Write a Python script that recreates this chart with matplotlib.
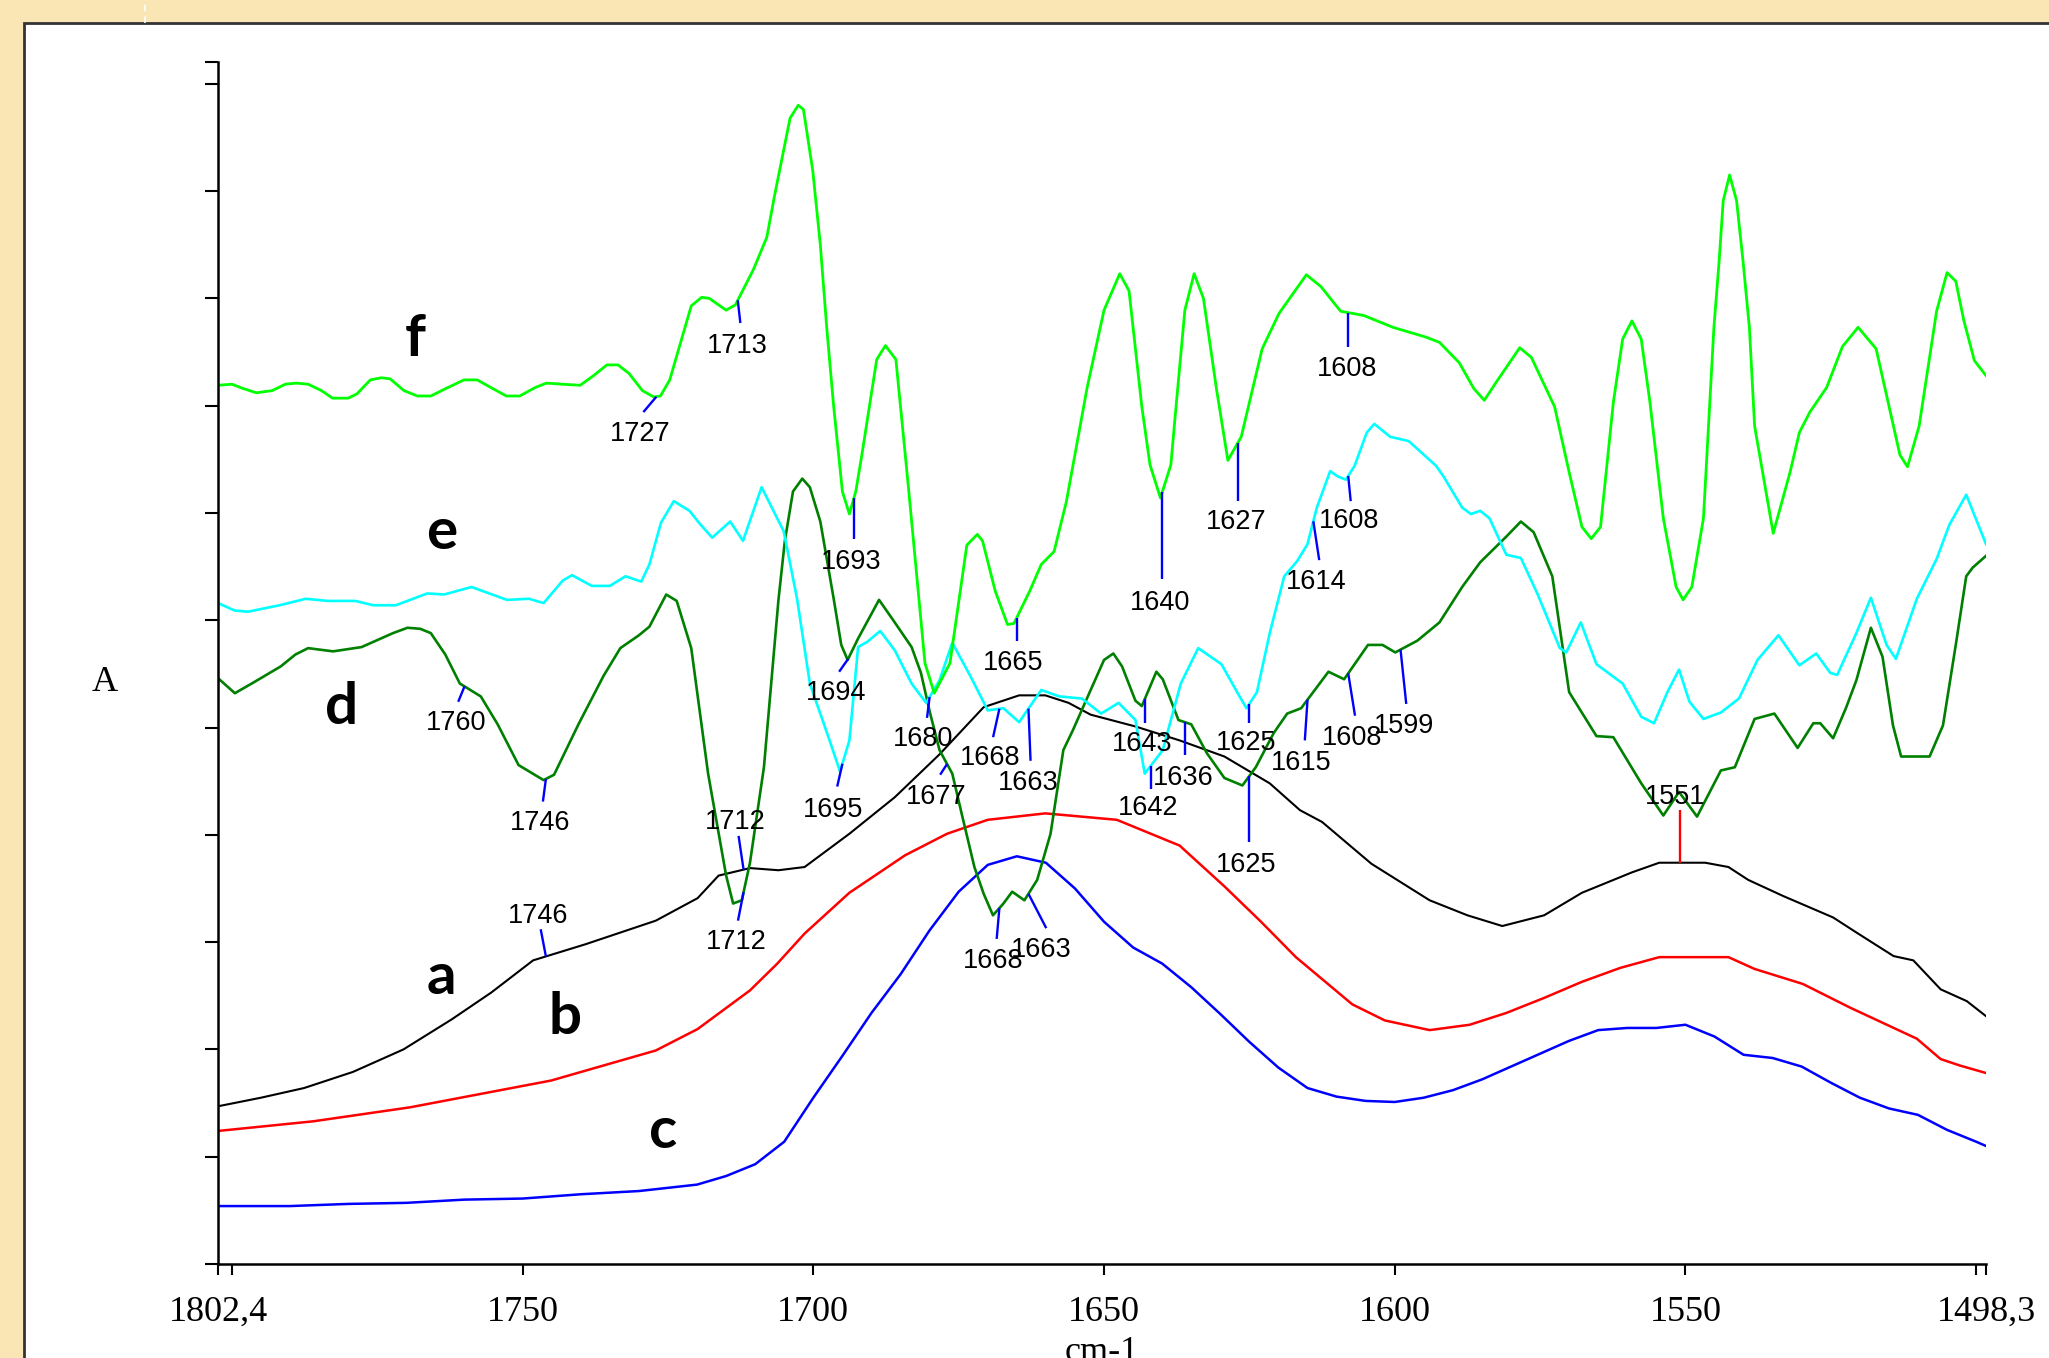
import numpy as np
import matplotlib
matplotlib.use('Agg')
import matplotlib.pyplot as plt
from matplotlib.patches import Rectangle
from matplotlib.lines import Line2D

plt.rcParams['font.family'] = ['Liberation Serif', 'DejaVu Serif']

# ---- spectra (wavenumber cm-1, absorbance) ----
wn_a = [1802.4, 1795.0, 1787.6, 1779.2, 1770.5, 1762.2, 1755.4, 1748.2, 1739.2, 1727.1,
        1719.9, 1716.3, 1710.9, 1706.0, 1701.5, 1693.8, 1686.0, 1678.3, 1670.7, 1664.6,
        1660.1, 1656.1, 1652.3, 1644.6, 1637.0, 1629.3, 1621.5, 1616.3, 1612.5, 1604.0,
        1594.0, 1587.5, 1581.5, 1574.3, 1567.8, 1559.2, 1554.5, 1546.6, 1542.6, 1539.2,
        1533.2, 1524.6, 1520.6, 1514.2, 1510.8, 1506.1, 1501.6, 1498.3]
abs_a = [0.147, 0.155, 0.164, 0.179, 0.200, 0.228, 0.253, 0.283, 0.298, 0.320,
         0.341, 0.362, 0.369, 0.367, 0.370, 0.401, 0.435, 0.475, 0.519, 0.530,
         0.530, 0.523, 0.512, 0.501, 0.488, 0.473, 0.448, 0.423, 0.412, 0.373,
         0.339, 0.325, 0.315, 0.325, 0.346, 0.365, 0.374, 0.374, 0.370, 0.358,
         0.343, 0.323, 0.309, 0.287, 0.283, 0.256, 0.245, 0.231]

wn_b = [1802.4, 1786.0, 1769.4, 1745.1, 1727.1, 1719.9, 1710.9, 1706.2, 1701.5, 1693.8,
        1684.2, 1677.0, 1670.0, 1660.1, 1647.8, 1637.0, 1629.3, 1623.0, 1617.0, 1607.3,
        1601.7, 1594.0, 1587.1, 1580.8, 1574.3, 1567.8, 1561.2, 1554.5, 1542.6, 1538.1,
        1529.8, 1521.7, 1510.2, 1506.1, 1502.8, 1498.3]
abs_b = [0.124, 0.133, 0.146, 0.171, 0.199, 0.219, 0.255, 0.280, 0.308, 0.346,
         0.381, 0.401, 0.414, 0.420, 0.414, 0.390, 0.352, 0.319, 0.286, 0.242,
         0.227, 0.218, 0.223, 0.234, 0.248, 0.263, 0.276, 0.286, 0.286, 0.275,
         0.261, 0.239, 0.210, 0.191, 0.185, 0.178]

wn_c = [1802.4, 1790, 1780, 1770, 1760, 1750, 1740, 1730, 1725, 1720,
        1715, 1710, 1705, 1700, 1695, 1690, 1685, 1680, 1675, 1670,
        1665, 1660, 1655, 1650, 1645, 1640, 1635, 1630, 1625, 1620,
        1615, 1610, 1605, 1600, 1595, 1590, 1585, 1580, 1575, 1570,
        1565, 1560, 1555, 1550, 1545, 1540, 1535, 1530, 1525, 1520,
        1515, 1510, 1505, 1500, 1498.3]
abs_c = [0.054, 0.054, 0.056, 0.057, 0.060, 0.061, 0.065, 0.068, 0.071, 0.074,
         0.082, 0.093, 0.114, 0.155, 0.194, 0.234, 0.270, 0.311, 0.347, 0.372,
         0.380, 0.374, 0.350, 0.319, 0.295, 0.280, 0.258, 0.233, 0.207, 0.183,
         0.164, 0.156, 0.152, 0.151, 0.155, 0.162, 0.172, 0.184, 0.196, 0.208,
         0.218, 0.220, 0.220, 0.223, 0.212, 0.195, 0.192, 0.184, 0.169, 0.155,
         0.145, 0.139, 0.125, 0.114, 0.110]

wn_d = [1802.4, 1799.5, 1796.6, 1791.6, 1789.1, 1786.9, 1782.6, 1777.7, 1772.3, 1769.8,
        1767.6, 1765.8, 1763.3, 1760.8, 1757.2, 1754.3, 1750.7, 1746.4, 1744.6, 1740.4,
        1736.1, 1733.2, 1730.0, 1728.2, 1725.3, 1723.5, 1721.0, 1718.1, 1715.0, 1713.8,
        1712.3, 1710.9, 1708.5, 1706.0, 1704.9, 1703.5, 1701.9, 1700.6, 1698.8, 1696.5,
        1695.2, 1694.1, 1692.3, 1688.7, 1686.0, 1683.1, 1681.5, 1679.9, 1678.3, 1676.1,
        1674.5, 1672.3, 1670.7, 1669.1, 1667.3, 1665.8, 1663.7, 1661.5, 1659.2, 1657.0,
        1655.4, 1652.3, 1650.0, 1648.4, 1646.9, 1644.6, 1643.5, 1641.0, 1639.9, 1637.2,
        1635.0, 1632.3, 1629.3, 1626.2, 1623.9, 1620.8, 1618.5, 1616.1, 1611.4, 1608.7,
        1604.6, 1602.1, 1599.9, 1596.1, 1592.3, 1588.4, 1585.3, 1580.8, 1578.3, 1576.1,
        1572.9, 1570.0, 1565.3, 1562.4, 1557.6, 1553.8, 1551.1, 1548.0, 1543.9, 1541.5,
        1538.1, 1534.7, 1530.7, 1528.0, 1526.8, 1524.6, 1522.4, 1520.6, 1518.1, 1516.1,
        1514.3, 1512.9, 1508.0, 1505.7, 1503.5, 1501.7, 1500.6, 1498.3]
abs_d = [0.546, 0.532, 0.541, 0.557, 0.568, 0.574, 0.571, 0.575, 0.588, 0.593,
         0.592, 0.588, 0.568, 0.541, 0.529, 0.503, 0.465, 0.451, 0.456, 0.503,
         0.548, 0.574, 0.586, 0.594, 0.624, 0.618, 0.574, 0.457, 0.362, 0.336,
         0.339, 0.374, 0.463, 0.619, 0.674, 0.720, 0.732, 0.724, 0.692, 0.620,
         0.577, 0.563, 0.583, 0.619, 0.598, 0.575, 0.551, 0.513, 0.479, 0.457,
         0.420, 0.370, 0.345, 0.325, 0.336, 0.347, 0.339, 0.358, 0.401, 0.479,
         0.497, 0.535, 0.563, 0.569, 0.557, 0.525, 0.520, 0.552, 0.545, 0.507,
         0.503, 0.476, 0.453, 0.446, 0.463, 0.495, 0.513, 0.518, 0.552, 0.545,
         0.577, 0.577, 0.570, 0.581, 0.598, 0.631, 0.654, 0.678, 0.692, 0.682,
         0.641, 0.533, 0.492, 0.491, 0.448, 0.418, 0.440, 0.417, 0.460, 0.463,
         0.508, 0.513, 0.481, 0.504, 0.504, 0.490, 0.518, 0.544, 0.593, 0.566,
         0.502, 0.473, 0.473, 0.502, 0.577, 0.641, 0.649, 0.660]

wn_e = [1802.4, 1799.5, 1797.2, 1791.8, 1787.3, 1783.5, 1778.8, 1775.7, 1771.8, 1766.4,
        1763.5, 1758.8, 1752.7, 1748.9, 1746.4, 1743.1, 1741.5, 1738.1, 1735.0, 1732.3,
        1729.6, 1728.2, 1726.2, 1724.0, 1721.3, 1719.7, 1717.4, 1714.3, 1712.1, 1708.9,
        1705.1, 1702.8, 1700.6, 1697.4, 1695.4, 1693.8, 1692.3, 1690.7, 1688.5, 1686.0,
        1683.1, 1680.6, 1678.3, 1676.1, 1672.9, 1670.0, 1667.3, 1664.6, 1660.8, 1657.7,
        1653.8, 1650.5, 1647.5, 1644.6, 1643.0, 1639.9, 1636.8, 1633.8, 1629.8, 1626.9,
        1625.5, 1623.7, 1621.5, 1619.0, 1616.8, 1615.0, 1613.4, 1611.1, 1609.8, 1608.4,
        1606.9, 1604.8, 1603.5, 1600.8, 1597.6, 1592.9, 1591.6, 1588.4, 1586.9, 1585.3,
        1583.7, 1580.8, 1578.3, 1575.4, 1571.6, 1570.5, 1568.0, 1565.3, 1560.8, 1557.6,
        1555.4, 1553.1, 1551.1, 1549.3, 1546.9, 1543.9, 1540.8, 1537.6, 1534.0, 1530.4,
        1527.5, 1525.1, 1523.9, 1520.6, 1518.1, 1515.4, 1513.8, 1510.2, 1506.8, 1504.6,
        1501.7, 1498.3]
abs_e = [0.616, 0.609, 0.608, 0.614, 0.620, 0.618, 0.618, 0.614, 0.614, 0.625,
         0.624, 0.631, 0.619, 0.620, 0.616, 0.637, 0.642, 0.632, 0.632, 0.641,
         0.636, 0.652, 0.691, 0.711, 0.702, 0.691, 0.677, 0.692, 0.674, 0.724,
         0.683, 0.620, 0.541, 0.491, 0.459, 0.488, 0.575, 0.580, 0.590, 0.572,
         0.541, 0.523, 0.544, 0.579, 0.547, 0.516, 0.518, 0.505, 0.535, 0.529,
         0.527, 0.513, 0.523, 0.507, 0.457, 0.479, 0.541, 0.574, 0.559, 0.531,
         0.518, 0.533, 0.588, 0.641, 0.655, 0.671, 0.705, 0.739, 0.734, 0.731,
         0.744, 0.775, 0.783, 0.771, 0.767, 0.744, 0.734, 0.705, 0.699, 0.702,
         0.695, 0.661, 0.658, 0.624, 0.574, 0.570, 0.598, 0.559, 0.541, 0.510,
         0.504, 0.533, 0.554, 0.524, 0.508, 0.514, 0.527, 0.563, 0.586, 0.558,
         0.569, 0.551, 0.549, 0.588, 0.621, 0.577, 0.564, 0.620, 0.657, 0.689,
         0.717, 0.671]

wn_f = [1802.4, 1800.0, 1798.1, 1795.8, 1793.1, 1790.8, 1788.9, 1786.9, 1784.6, 1782.7,
        1780.0, 1778.5, 1776.2, 1774.3, 1772.8, 1770.4, 1768.1, 1765.8, 1763.2, 1760.1,
        1757.8, 1755.5, 1752.8, 1750.5, 1747.8, 1745.9, 1743.2, 1740.1, 1737.8, 1735.5,
        1733.6, 1731.7, 1729.4, 1727.4, 1726.3, 1724.7,
        1722.4, 1721.0, 1719.2, 1717.9, 1715.0, 1713.4,
        1710.3, 1708.0, 1706.7, 1705.3, 1704.0, 1702.6, 1701.7, 1700.1, 1698.8, 1697.7,
        1696.5, 1695.0, 1693.8, 1692.7, 1691.6, 1689.1, 1687.6, 1685.8, 1683.7, 1680.8,
        1679.2, 1676.5, 1673.6, 1671.8, 1670.9, 1668.7, 1666.6, 1665.5, 1662.8, 1660.8,
        1658.6, 1656.5, 1652.9, 1650.0, 1647.3, 1645.7, 1643.5, 1642.1, 1640.3, 1638.5,
        1637.9, 1636.1, 1634.5, 1632.9, 1630.7, 1628.7, 1626.4, 1622.8, 1619.9, 1615.2,
        1612.7, 1609.3, 1605.3, 1600.3, 1594.7, 1592.3, 1588.9, 1586.4, 1584.6, 1582.4,
        1578.5, 1576.5, 1572.5, 1570.0, 1567.8, 1566.2, 1564.6, 1562.4, 1560.8, 1559.2,
        1557.6, 1556.1, 1553.8, 1551.6, 1550.4, 1548.9, 1546.9, 1545.1, 1544.2, 1543.5,
        1542.4, 1541.2, 1540.1, 1539.0, 1538.1, 1534.9, 1532.0, 1530.4, 1528.6, 1525.7,
        1523.0, 1520.3, 1517.2, 1513.1, 1511.8, 1509.8, 1506.8, 1505.0, 1503.5, 1502.1,
        1500.3, 1498.3]
abs_f = [0.819, 0.820, 0.816, 0.812, 0.814, 0.820, 0.821, 0.820, 0.814, 0.807,
         0.807, 0.811, 0.824, 0.826, 0.825, 0.814, 0.809, 0.809, 0.816, 0.824,
         0.824, 0.817, 0.809, 0.809, 0.817, 0.821, 0.820, 0.819, 0.828, 0.838,
         0.838, 0.830, 0.814, 0.808, 0.809, 0.824,
         0.867, 0.893, 0.901, 0.900, 0.889, 0.894,
         0.927, 0.957, 0.995, 1.033, 1.068, 1.080, 1.076, 1.019, 0.950, 0.873,
         0.799, 0.720, 0.699, 0.720, 0.756, 0.843, 0.856, 0.843, 0.727, 0.560,
         0.532, 0.560, 0.670, 0.680, 0.674, 0.627, 0.596, 0.597, 0.627, 0.652,
         0.664, 0.710, 0.817, 0.889, 0.923, 0.907, 0.799, 0.745, 0.714, 0.745,
         0.782, 0.889, 0.923, 0.900, 0.817, 0.749, 0.771, 0.853, 0.886, 0.922,
         0.911, 0.888, 0.884, 0.873, 0.864, 0.859, 0.840, 0.816, 0.805, 0.823,
         0.854, 0.845, 0.799, 0.738, 0.687, 0.676, 0.687, 0.803, 0.862, 0.879,
         0.862, 0.803, 0.695, 0.631, 0.619, 0.631, 0.695, 0.873, 0.935, 0.991,
         1.015, 0.991, 0.935, 0.873, 0.781, 0.681, 0.738, 0.775, 0.794, 0.817,
         0.855, 0.873, 0.853, 0.754, 0.743, 0.781, 0.888, 0.924, 0.916, 0.879,
         0.842, 0.828]

# labelled band positions (cm-1) on each spectrum
peaks_a = [1746, 1712, 1551]
peaks_d = [1760, 1746, 1712, 1694, 1677, 1668, 1663, 1643, 1636, 1625, 1615, 1608, 1599]
peaks_e = [1695, 1680, 1668, 1663, 1642, 1625, 1614, 1608]
peaks_f = [1727, 1713, 1693, 1665, 1640, 1627, 1608]

# ---- label layout: (tick dx px, tick end y, text dx px, text y) ----
lay_a = [(-5.2, 0.312, -7.8, 0.327), (-5.0, 0.399, -8.2, 0.415), (0.0, 0.423, -4.4, 0.438)]
lay_d = [(-6.3, 0.524, -8.8, 0.507), (-3.0, 0.431, -5.6, 0.414), (-5.6, 0.320, -7.8, 0.303),
         (-9.1, 0.552, -11.8, 0.535), (-6.9, 0.456, -10.5, 0.438), (-2.7, 0.303, -6.1, 0.285),
         (17.8, 0.313, 13.1, 0.295), (0.0, 0.504, -2.9, 0.487), (0.0, 0.474, -2.0, 0.456),
         (0.0, 0.393, -3.3, 0.375), (-2.7, 0.488, -6.0, 0.470), (6.8, 0.511, 3.7, 0.493),
         (5.7, 0.522, 3.0, 0.504)]
lay_e = [(-5.2, 0.445, -9.1, 0.426), (-2.6, 0.509, -6.5, 0.492), (-6.3, 0.491, -9.7, 0.474),
         (2.1, 0.469, 0.0, 0.451), (0.0, 0.443, -2.2, 0.428), (0.0, 0.504, -3.3, 0.488),
         (5.9, 0.656, 2.6, 0.638), (2.5, 0.711, 0.5, 0.695)]
lay_f = [(-13.0, 0.794, -15.7, 0.776), (2.6, 0.877, 0.0, 0.858), (0.0, 0.676, -2.6, 0.657),
         (0.0, 0.581, -3.9, 0.563), (0.0, 0.638, -2.6, 0.619), (0.0, 0.711, -1.3, 0.694),
         (0.0, 0.855, -1.3, 0.837)]

W, H = 2049, 1358
fig = plt.figure(figsize=(W / 100, H / 100), dpi=100, facecolor='#F9E6B4')

# white panel with dark border, drawn beneath the axes
fig.patches.append(Rectangle((24 / W, -0.05), 1.1, 1 - 23 / H + 0.05, transform=fig.transFigure,
                             facecolor='white', edgecolor='#333333', lw=2.0, zorder=-10))
fig.add_artist(Line2D([145 / W, 145 / W], [1 - 23 / H, 1.0], transform=fig.transFigure,
                      color='white', lw=1.2, ls=(0, (4, 3)), zorder=-5))

left, bottom = 218 / W, 1 - 1264 / H
width, height = (1986 - 218) / W, (1264 - 62) / H
ax = fig.add_axes([left, bottom, width, height])
ax.set_facecolor('none')

x_lo, x_hi = 1802.4, 1498.3
y_top = 1.1203
ax.set_xlim(x_lo, x_hi)
ax.set_ylim(0, y_top)

ax.plot(wn_a, abs_a, color='black', lw=1.5)
ax.plot(wn_b, abs_b, color='#FF0000', lw=1.8)
ax.plot(wn_c, abs_c, color='#0000FF', lw=1.8)
ax.plot(wn_d, abs_d, color='#008000', lw=1.9)
ax.plot(wn_e, abs_e, color='#00FFFF', lw=1.9)
ax.plot(wn_f, abs_f, color='#00FF00', lw=2.0)

wn_per_px = (x_lo - x_hi) / (width * W)


def mark(wn, ab, peaks, layout, color='#0000FF'):
    wn = np.asarray(wn)[::-1]
    ab = np.asarray(ab)[::-1]
    for p, (tdx, ty, ldx, ly) in zip(peaks, layout):
        y0 = np.interp(p, wn, ab)
        ax.plot([p, p - tdx * wn_per_px], [y0, ty], color=color, lw=1.7,
                solid_capstyle='butt', zorder=5)
        ax.text(p - ldx * wn_per_px, ly, str(p), fontsize=19.5, family='Liberation Sans',
                ha='center', va='center_baseline', zorder=6)


mark(wn_f, abs_f, peaks_f, lay_f)
mark(wn_e, abs_e, peaks_e, lay_e)
mark(wn_d, abs_d, peaks_d, lay_d)
mark(wn_a, abs_a, peaks_a[:2], lay_a[:2])
mark(wn_a, abs_a, peaks_a[2:], lay_a[2:], color='#FF0000')

# curve letters (baseline positions)
for s, x, y in [('a', 1764.0, 0.252), ('b', 1742.7, 0.214), ('c', 1725.8, 0.108),
                ('d', 1781.1, 0.503), ('e', 1764.0, 0.666), ('f', 1768.5, 0.8465)]:
    ax.text(x, y, s, fontsize=42, family='Lato', fontweight='bold',
            ha='center', va='baseline')

for side in ('top', 'right'):
    ax.spines[side].set_visible(False)
for side in ('left', 'bottom'):
    ax.spines[side].set_linewidth(1.8)

ax.set_xticks([1802.4, 1800, 1750, 1700, 1650, 1600, 1550, 1500, 1498.3])
ax.set_xticklabels(['1802,4', '', '1750', '1700', '1650', '1600', '1550', '', '1498,3'])
ax.set_yticks(list(np.round(np.arange(12) * 0.1, 1)) + [y_top])
ax.set_yticklabels([])
ax.tick_params(axis='x', direction='out', length=8, width=1.5, pad=15, labelsize=26)
ax.tick_params(axis='y', direction='out', length=9.5, width=1.5)

ax.set_xlabel('cm-1', fontsize=26)
ax.xaxis.set_label_coords(0.5, -0.0599)
ax.set_ylabel('A', fontsize=26, rotation=0, ha='center', va='center')
ax.yaxis.set_label_coords(-0.0639, 0.4834)

fig.savefig('out.png', dpi=100, facecolor=fig.get_facecolor())
